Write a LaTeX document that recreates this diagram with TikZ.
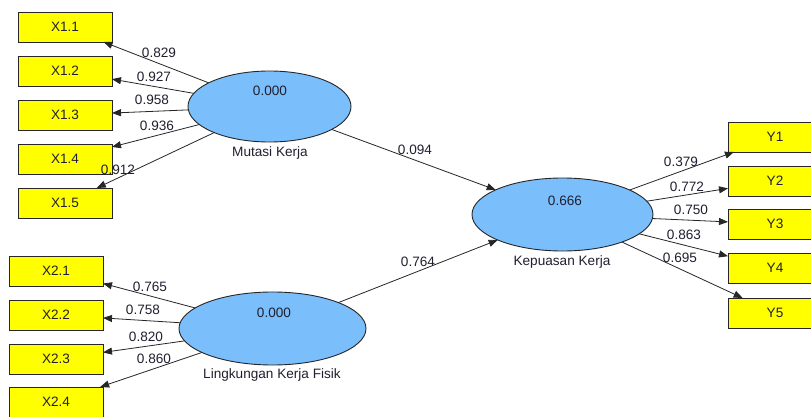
\documentclass[tikz,border=0pt]{standalone}
\usepackage{fontspec}
\setmainfont{Liberation Sans}
\usetikzlibrary{shapes.geometric,arrows.meta}
\definecolor{boxyellow}{HTML}{FFFF00}
\definecolor{lvblue}{HTML}{7ABEFC}
\definecolor{txt}{HTML}{202030}
\tikzset{
  ind/.style={draw=black!85, line width=0.9pt, fill=boxyellow, minimum width=94pt, minimum height=30pt, inner sep=0pt, outer sep=0pt, font=\fontsize{13.6}{16}\selectfont, text=txt},
  lv/.style={draw=black!85, line width=0.9pt, fill=lvblue, ellipse, inner sep=0pt, outer sep=0pt},
  lbl/.style={font=\fontsize{13.6}{16}\selectfont, text=txt, inner sep=0pt},
  conn/.style={draw=black!85, line width=0.8pt, -{Triangle[length=9pt,width=7pt]}}
}
\begin{document}
\begin{tikzpicture}[x=1pt,y=-1pt]
\clip (0,0) rectangle (811,417);
\fill[white] (0,0) rectangle (811,417);
% latent variables
\node[lv, minimum width=163pt, minimum height=71pt] (M) at (269.5,106.5) {};
\node[lv, minimum width=187pt, minimum height=73pt] (L) at (272.5,328.5) {};
\node[lv, minimum width=181pt, minimum height=73pt] (K) at (562.5,214.5) {};
\node[lbl] (Mv) at (270,91) {0.000};
\node[lbl] (Mn) at (270,153) {Mutasi Kerja};
\node[lbl] (Lv) at (274,313) {0.000};
\node[lbl] (Ln) at (272,375) {Lingkungan Kerja Fisik};
\node[lbl] (Kv) at (565,201) {0.666};
\node[lbl] (Kn) at (562,262) {Kepuasan Kerja};
% indicators
\node[ind] (X11) at (65,27) {X1.1};
\node[ind] (X12) at (65,71) {X1.2};
\node[ind] (X13) at (65,115) {X1.3};
\node[ind] (X14) at (65,159) {X1.4};
\node[ind] (X15) at (65,203) {X1.5};
\node[ind] (X21) at (56,271) {X2.1};
\node[ind] (X22) at (56,315) {X2.2};
\node[ind] (X23) at (56,359) {X2.3};
\node[ind] (X24) at (56,402) {X2.4};
\node[ind] (Y1) at (775,137) {Y1};
\node[ind] (Y2) at (775,181) {Y2};
\node[ind] (Y3) at (775,224) {Y3};
\node[ind] (Y4) at (775,268) {Y4};
\node[ind] (Y5) at (775,313) {Y5};
% connectors
\draw[conn] (M) -- (X11);
\draw[conn] (M) -- (X12);
\draw[conn] (M) -- (X13);
\draw[conn] (M) -- (X14);
\draw[conn] (M) -- (X15);
\draw[conn] (L) -- (X21);
\draw[conn] (L) -- (X22);
\draw[conn] (L) -- (X23);
\draw[conn] (L) -- (X24);
\draw[conn] (K) -- (Y1);
\draw[conn] (K) -- (Y2);
\draw[conn] (K) -- (Y3);
\draw[conn] (K) -- (Y4);
\draw[conn] (K) -- (Y5);
\draw[conn] (M) -- (K);
\draw[conn] (L) -- (K);
% loading labels
\node[lbl] (l11) at (159,53) {0.829};
\node[lbl] (l12) at (154,77) {0.927};
\node[lbl] (l13) at (152,100) {0.958};
\node[lbl] (l14) at (157,126) {0.936};
\node[lbl] (l15) at (118,170) {0.912};
\node[lbl] (l21) at (150,287) {0.765};
\node[lbl] (l22) at (143,310) {0.758};
\node[lbl] (l23) at (146,337) {0.820};
\node[lbl] (l24) at (154,359) {0.860};
\node[lbl] (ly1) at (681,162) {0.379};
\node[lbl] (ly2) at (687,187) {0.772};
\node[lbl] (ly3) at (691,210) {0.750};
\node[lbl] (ly4) at (684,235) {0.863};
\node[lbl] (ly5) at (680,258) {0.695};
\node[lbl] (pMK) at (415,150) {0.094};
\node[lbl] (pLK) at (418,262) {0.764};
\end{tikzpicture}
\end{document}
